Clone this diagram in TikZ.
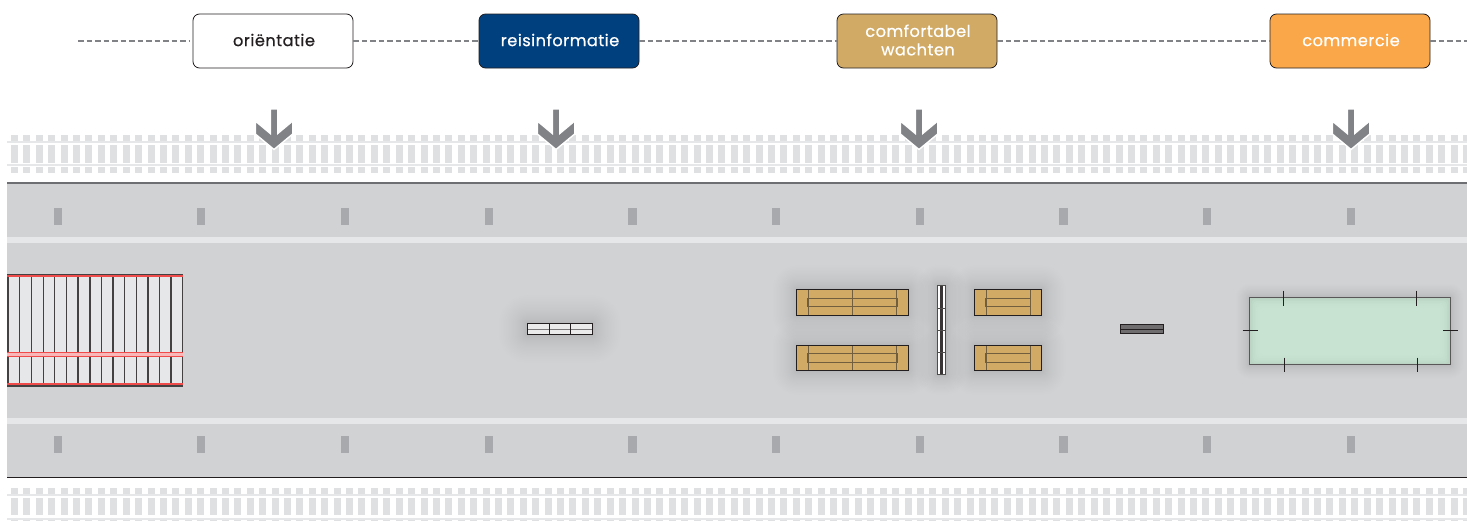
\documentclass[tikz,border=0pt]{standalone}
\usepackage{fontspec}
\setmainfont{Poppins}
\newfontfamily\labelfont{Poppins}[FakeBold=0.6,LetterSpace=3]
\definecolor{platform}{HTML}{D1D2D4}
\definecolor{strip}{HTML}{E6E7E8}
\definecolor{marker}{HTML}{A7A9AC}
\definecolor{sleeper}{HTML}{DFE0E1}
\definecolor{arrowgray}{HTML}{808285}
\definecolor{ink}{HTML}{231F20}
\definecolor{navy}{HTML}{00407F}
\definecolor{sand}{HTML}{D1AB66}
\definecolor{amber}{HTML}{FAA74A}
\definecolor{mint}{HTML}{CAE5D4}
\definecolor{stairred}{HTML}{EF4B4B}
\tikzset{
  x=1pt,y=-1pt,
  topicbox/.style={draw=ink,line width=0.8pt,rounded corners=6.5pt,minimum width=160pt,minimum height=54pt,inner sep=0pt},
  topiclabel/.style={inner sep=0pt,align=center,font=\labelfont\fontsize{16.2}{18.5}\selectfont},
  linkline/.style={draw=arrowgray,line width=1.3pt,dash pattern=on 5.5pt off 3pt},
  edgeink/.style={draw=ink,line width=1pt},
  softink/.style={draw=sand!45!ink,line width=0.9pt},
}
\newcommand{\glowbox}[5]{% x1 y1 x2 y2 spread
  \foreach \g in {1,...,30}{
    \pgfmathsetmacro{\gr}{#5*(\g/30)*(\g/30)}
    \fill[black,opacity=0.0045,rounded corners=\gr pt]
      ({#1-\gr},{#2-\gr}) rectangle ({#3+\gr},{#4+\gr});
  }}
\newcommand{\sandwide}[2]{% top y, inner top y
  \fill[sand] (796.7,#1) rectangle (908,#1+25.7);
  \draw[softink] (808.3,#1) -- (808.3,#1+25.7) (852.5,#1) -- (852.5,#1+25.7) (896.7,#1) -- (896.7,#1+25.7);
  \draw[softink] (807.5,#2) rectangle (897,#2+8.6);
  \draw[edgeink] (796.7,#1) rectangle (908,#1+25.7);
}
\newcommand{\sandshort}[2]{%
  \fill[sand] (974.5,#1) rectangle (1041.7,#1+25.7);
  \draw[softink] (986,#1) -- (986,#1+25.7) (1030,#1) -- (1030,#1+25.7);
  \draw[softink] (985.5,#2) rectangle (1030.5,#2+8.6);
  \draw[edgeink] (974.5,#1) rectangle (1041.7,#1+25.7);
}
\begin{document}
\begin{tikzpicture}
\useasboundingbox (0,0) rectangle (1467,520);
\clip (0,0) rectangle (1467,520);
% tracks
\foreach \i in {0,...,117}{
  \fill[sleeper] ({11+12.41*\i},135) rectangle ({18+12.41*\i},173);
  \fill[sleeper] ({11+12.41*\i},488.3) rectangle ({18+12.41*\i},521);
}
\fill[white] (7,140.7) rectangle (1467,144.6);
\fill[white] (7,162.6) rectangle (1467,167);
\fill[strip] (7,141) rectangle (1467,143.2);
\fill[strip] (7,164.3) rectangle (1467,166.4);
\fill[white] (7,493.7) rectangle (1467,498.3);
\fill[white] (7,515) rectangle (1467,519.9);
\fill[strip] (7,494) rectangle (1467,496);
\fill[strip] (7,517.5) rectangle (1467,519.6);
% platform
\fill[platform] (7,183) rectangle (1467,477);
\fill[strip] (7,237) rectangle (1467,243);
\fill[strip] (7,418) rectangle (1467,424);
\draw[arrowgray!85!black,line width=1.4pt] (7,182.8) -- (1467,182.8);
\draw[ink,line width=1.3pt] (7,477.4) -- (1467,477.4);
\foreach \i in {0,...,9}{
  \fill[marker] ({53.5+143.7*\i},208) rectangle ({61.7+143.7*\i},225);
  \fill[marker] ({53.5+143.7*\i},436) rectangle ({61.7+143.7*\i},453);
}
% arrows
\foreach \ax in {274,556,919,1351}{
  \fill[arrowgray,draw=white,line width=1.4pt,line join=miter] (\ax-3.7,109) -- (\ax+3.7,109) -- (\ax+3.7,133.5)
     -- (\ax+18.7,121) -- (\ax+18.7,134) -- (\ax,149.5) -- (\ax-18.7,134) -- (\ax-18.7,121) -- (\ax-3.7,133.5) -- cycle;
}
% stairs
\fill[strip] (7,274) rectangle (183,386);
\foreach \sx in {8,19.7,31.3,43.3,54.7,66.3,78,90,101.3,113,124.7,136.3,148,159.3,171,182.7}{
  \draw[ink!85,line width=1.1pt] (\sx,274) -- (\sx,386);
}
\fill[ink!85] (7,273.8) rectangle (183,274.8);
\fill[ink!85] (7,384.8) rectangle (183,386.7);
\fill[white!60!stairred] (7,352.5) rectangle (183,356.8);
\draw[stairred,line width=1.6pt] (7,275.9) -- (183,275.9);
\draw[stairred,line width=1.2pt] (7,352.4) -- (183,352.4);
\draw[stairred,line width=1.2pt] (7,356.8) -- (183,356.8);
\draw[stairred,line width=1.3pt] (7,384) -- (183,384);
% white bench
\glowbox{527}{323.3}{592.7}{334.7}{28}
\fill[white!92!black] (527,323.3) rectangle (592.7,334.7);
\draw[ink!60,line width=0.8pt] (527,329) -- (592.7,329);
\draw[edgeink] (527,323.3) rectangle (592.7,334.7) (549,323.3) -- (549,334.7) (570.5,323.3) -- (570.5,334.7);
% sand benches
\glowbox{796.7}{289.3}{908}{315}{24}
\glowbox{796.7}{345}{908}{370.7}{24}
\glowbox{974.5}{289.3}{1041.7}{315}{24}
\glowbox{974.5}{345}{1041.7}{370.7}{24}
\glowbox{937.3}{285.3}{945.7}{374.7}{20}
\sandwide{289.3}{298}
\sandwide{345}{353.5}
\sandshort{289.3}{298}
\sandshort{345}{353.5}
% divider
\fill[white] (937.3,285.3) rectangle (945.7,374.7);
\fill[ink!90] (940.2,285.3) rectangle (943.3,374.7);
\draw[ink!80,line width=0.8pt] (937.3,285.3) rectangle (945.7,374.7)
  (937.3,308) -- (945.7,308) (937.3,330) -- (945.7,330) (937.3,352) -- (945.7,352);
% grey bench
\fill[ink!65] (1120,324.7) rectangle (1163.5,333.3);
\draw[ink,line width=0.9pt] (1120,324.7) rectangle (1163.5,333.3) (1120,329) -- (1163.5,329);
% green area
\glowbox{1249.7}{297.7}{1450.3}{364.7}{14}
\fill[mint!92!black] (1249.7,297.7) rectangle (1450.3,364.7);
\foreach \g in {1,...,10}{
  \fill[mint,opacity=0.35,rounded corners=4pt] ({1249.7+1.6*\g},{297.7+1.6*\g}) rectangle ({1450.3-1.6*\g},{364.7-1.6*\g});
}
\draw[ink!75,line width=1pt] (1249.7,297.7) rectangle (1450.3,364.7);
\draw[ink,line width=0.8pt]
  (1283.3,290.5) -- (1283.3,305.5) (1416.7,290.5) -- (1416.7,305.5)
  (1284,357.5) -- (1284,372) (1417.3,357.5) -- (1417.3,372)
  (1242.5,330.7) -- (1257.5,330.7) (1443,330.7) -- (1457.5,330.7);
% topic boxes and connectors
\node[topicbox,fill=white] (orient) at (273,41) {};
\node[topicbox,fill=navy] (reis) at (559,41) {};
\node[topicbox,fill=sand] (comfort) at (917,41) {};
\node[topicbox,fill=amber] (comm) at (1350,41) {};
\node[topiclabel,text=ink] (orientlabel) at (274,40) {oriëntatie};
\node[topiclabel,text=white] (reislabel) at (560,40) {reisinformatie};
\node[topiclabel,text=white] (comfortlabel) at (918,40) {comfortabel\\wachten};
\node[topiclabel,text=white] (commlabel) at (1351,40) {commercie};
\coordinate (linestart) at (78,41);
\coordinate (lineend) at (1467,41);
\path[linkline] (linestart) -- ([xshift=-4pt]orient.west);
\path[linkline] (orient.east) -- (reis.west);
\path[linkline] (reis.east) -- (comfort.west);
\path[linkline] (comfort.east) -- (comm.west);
\path[linkline] (comm.east) -- (lineend);
\end{tikzpicture}
\end{document}
